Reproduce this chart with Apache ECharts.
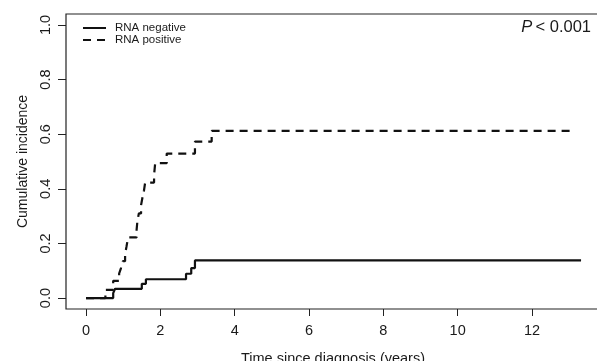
<!DOCTYPE html>
<html>
<head>
<meta charset="utf-8">
<script src="https://cdn.jsdelivr.net/npm/echarts@6/dist/echarts.min.js"></script>
<style>
  html, body { margin: 0; padding: 0; background: #fff; }
  #main { width: 597px; height: 361px; }
</style>
</head>
<body>
<div id="main"></div>
<script>
// cumulative incidence, step values (value holds from time onward)
var negTime = [0, 0.73, 0.78, 1.50, 1.61, 2.69, 2.83, 2.93, 13.32];
var negCum  = [0, 0.018, 0.034, 0.052, 0.069, 0.089, 0.11, 0.138, 0.138];

var posTime = [0, 0.52, 0.73, 0.89, 0.94, 0.99, 1.05, 1.09, 1.13, 1.36, 1.38, 1.42, 1.48,
               1.52, 1.56, 1.59, 1.83, 1.86, 2.17, 2.93, 3.38, 13.1];
var posCum  = [0, 0.03, 0.063, 0.09, 0.11, 0.135, 0.16, 0.19, 0.222, 0.25, 0.28, 0.31, 0.34,
               0.37, 0.395, 0.423, 0.45, 0.494, 0.529, 0.573, 0.612, 0.612];

var xTicks = [0, 2, 4, 6, 8, 10, 12];
var yTicks = [0, 0.2, 0.4, 0.6, 0.8, 1.0];

var seriesNames = ['RNA negative', 'RNA positive'];
var xTitle = 'Time since diagnosis (years)';
var yTitle = 'Cumulative incidence';
var pText = '\u2009< 0.001';

function pairs(xs, ys) {
  var out = [];
  for (var i = 0; i < xs.length; i++) out.push([xs[i], ys[i]]);
  return out;
}

var FONT = 'Liberation Sans';
var INK = '#1a1a1a';

var chart = echarts.init(document.getElementById('main'), null, {renderer: 'canvas'});

chart.setOption({
  animation: false,
  backgroundColor: '#fff',
  title: {
    text: '{i|P}' + pText,
    right: 6,
    top: 19,
    padding: 0,
    textStyle: {
      fontFamily: FONT, fontSize: 16.5, fontWeight: 'normal', color: INK,
      rich: { i: { fontFamily: FONT, fontSize: 16.5, fontStyle: 'italic', color: INK } }
    }
  },
  legend: {
    orient: 'vertical',
    left: 82,
    top: 22,
    padding: 0,
    itemWidth: 23,
    itemHeight: 14,
    itemGap: 0,
    data: seriesNames,
    itemStyle: { color: 'rgba(0,0,0,0)', borderWidth: 0, opacity: 0 },
    textStyle: { fontFamily: FONT, fontSize: 11.5, color: INK, padding: [0, 0, 0, 4] }
  },
  // R plot region with its box; axis range padded 4% like R
  grid: {
    left: 66, right: -3, top: 14, bottom: 52, show: true,
    outerBoundsMode: 'none', containLabel: false,
    borderColor: '#222', borderWidth: 1.2, backgroundColor: 'transparent'
  },
  xAxis: {
    type: 'value', min: -0.54, max: 13.83,
    name: xTitle, nameLocation: 'middle', nameGap: 42,
    nameTextStyle: { fontFamily: FONT, fontSize: 14.5, color: INK },
    axisLine: { show: false, onZero: false },
    axisTick: { show: true, length: 7, customValues: xTicks, lineStyle: { color: '#222', width: 1 } },
    axisLabel: { customValues: xTicks, margin: 14, fontFamily: FONT, fontSize: 14.5, color: INK },
    splitLine: { show: false }
  },
  yAxis: {
    type: 'value', min: -0.04, max: 1.04,
    name: yTitle, nameLocation: 'middle', nameGap: 36,
    nameTextStyle: { fontFamily: FONT, fontSize: 14, color: INK },
    axisLine: { show: false, onZero: false },
    axisTick: { show: true, length: 8, customValues: yTicks, lineStyle: { color: '#222', width: 1 } },
    axisLabel: {
      customValues: yTicks, rotate: 90, margin: 13, fontFamily: FONT, fontSize: 14.5, color: INK,
      formatter: function (v) { return v.toFixed(1); }
    },
    splitLine: { show: false }
  },
  series: [
    {
      name: seriesNames[0], type: 'line', step: 'end',
      symbol: 'none', clip: false,
      lineStyle: { color: '#111', width: 2.2, type: 'solid' },
      itemStyle: { color: '#111' },
      data: pairs(negTime, negCum)
    },
    {
      name: seriesNames[1], type: 'line', step: 'end',
      symbol: 'none', clip: false,
      lineStyle: { color: '#111', width: 2.2, type: [8, 6] },
      itemStyle: { color: '#111' },
      data: pairs(posTime, posCum)
    }
  ]
});
</script>
</body>
</html>
